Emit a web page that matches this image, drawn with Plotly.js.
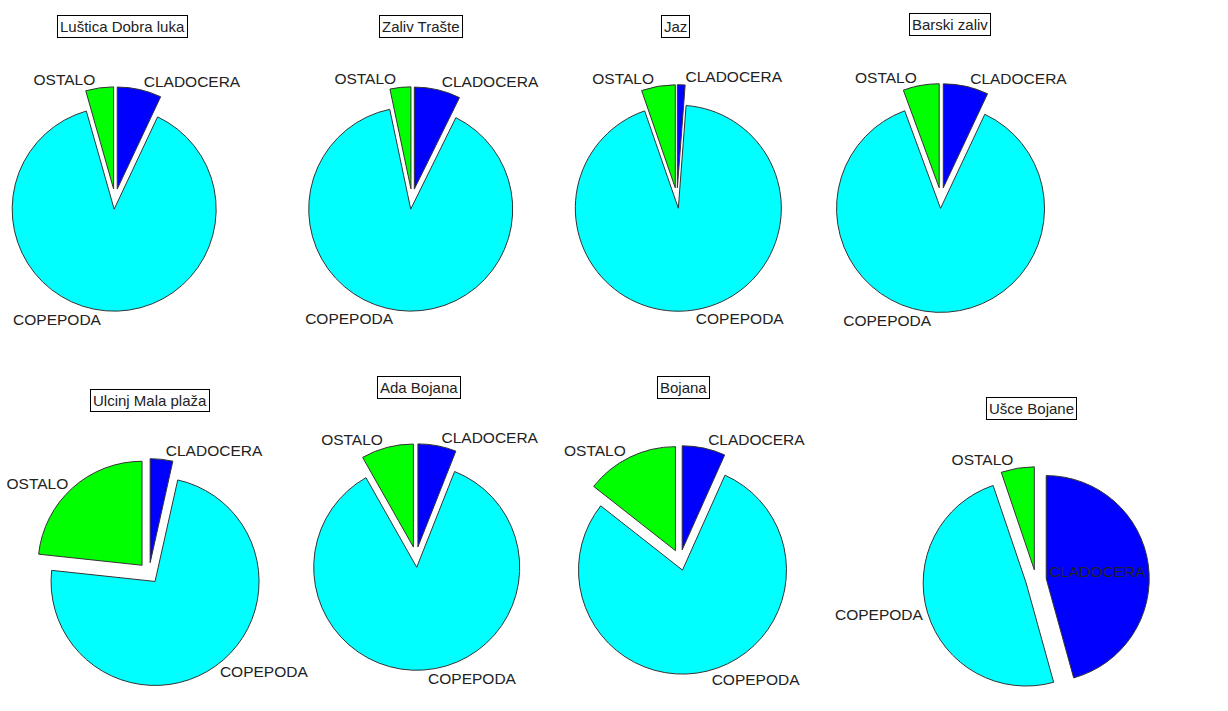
<!DOCTYPE html>
<html>
<head>
<meta charset="utf-8">
<script src="https://cdn.plot.ly/plotly-3.0.1.min.js"></script>
<style>
html,body{margin:0;padding:0;background:#fff;}
#chart{width:1228px;height:711px;}
</style>
</head>
<body>
<div id="chart"></div>
<script>
// ---- data (percent composition) ----
const categories = ['CLADOCERA', 'COPEPODA', 'OSTALO'];
const stations = ['Luštica Dobra luka', 'Zaliv Trašte', 'Jaz', 'Barski zaliv',
                  'Ulcinj Mala plaža', 'Ada Bojana', 'Bojana', 'Ušce Bojane'];
const cladocera = [7.0, 7.3, 1.2, 7.0, 3.5, 6.0, 6.7, 45.7];
const copepoda  = [88.6, 89.4, 93.5, 87.4, 73.2, 85.8, 78.9, 49.1];
const ostalo    = [4.4, 3.3, 5.3, 5.6, 23.3, 8.2, 14.4, 5.2];
const colors = ['#0000ff', '#00ffff', '#00ff00'];

// ---- layout (pixel placement of each pie and its boxed title) ----
const W = 1228, H = 711;
const pieCenters = [[115,199],[412,199],[677,198],[941,198],[149,573],[416,557],[680,560],[1036,580]];
const pieRadius  = [102,102,103,104,104,103,104,103];
const titlePos   = [[122,26],[421,26],[675,26],[950,25],[150,400],[419,388],[683,388],[1031,408]];
const pull = 0.1;
const fontFam = '"Liberation Sans", Arial, sans-serif';

const traces = [];
const annotations = [];
stations.forEach((name, i) => {
  const [cx, cy] = pieCenters[i];
  const half = pieRadius[i] * (1 + pull);
  const textpos = (i === 7) ? ['inside', 'outside', 'outside'] : 'outside';
  traces.push({
    type: 'pie',
    labels: categories,
    values: [cladocera[i], copepoda[i], ostalo[i]],
    sort: false,
    direction: 'clockwise',
    rotation: 0,
    pull: pull,
    textinfo: 'label',
    textposition: textpos,
    insidetextorientation: 'horizontal',
    textfont: {family: fontFam, size: 15.5, color: '#222'},
    insidetextfont: {family: fontFam, size: 15.5, color: '#222'},
    outsidetextfont: {family: fontFam, size: 15.5, color: '#222'},
    marker: {colors: colors, line: {color: '#333', width: 1}},
    hoverinfo: 'label+percent',
    domain: {
      x: [(cx - half) / W, (cx + half) / W],
      y: [1 - (cy + half) / H, 1 - (cy - half) / H]
    },
    showlegend: false
  });
  annotations.push({
    text: name,
    xref: 'paper', yref: 'paper',
    x: titlePos[i][0] / W, y: 1 - titlePos[i][1] / H,
    xanchor: 'center', yanchor: 'middle',
    showarrow: false,
    font: {family: fontFam, size: 15, color: '#222'},
    bordercolor: '#000', borderwidth: 1, borderpad: 2,
    bgcolor: '#fff'
  });
});

const layout = {
  width: W, height: H,
  margin: {l: 0, r: 0, t: 0, b: 0},
  paper_bgcolor: '#fff',
  plot_bgcolor: '#fff',
  annotations: annotations,
  showlegend: false
};

Plotly.newPlot('chart', traces, layout, {displayModeBar: false, staticPlot: true});
</script>
</body>
</html>
